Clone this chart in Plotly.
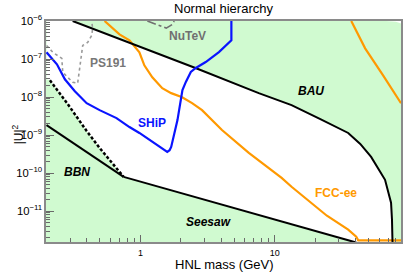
import math
import plotly.graph_objects as go

# ---------------- data (HNL mass in GeV, |U|^2) ----------------
# BAU upper boundary (black solid)
bau_mass = [0.313, 2.60, 7.61, 13.36, 21.9, 35.3, 43.4, 52.3, 66.4, 73.6, 74.8, 75.5]
bau_u2 = [1e-6, 5.71e-8, 1.27e-8, 6.14e-9, 2.64e-9, 1.14e-9, 5.85e-10, 2.67e-10, 6.68e-11, 1.67e-11, 6.0e-12, 1.4e-12]

# Seesaw lower boundary (black solid)
seesaw_mass = [0.75, 40.5]
seesaw_u2 = [8.0e-11, 1.5e-12]

# BBN bound, solid and dashed
bbn_mass = [0.2, 0.75]
bbn_u2 = [1.84e-9, 8.0e-11]
bbn_dash_mass = [0.212, 0.288, 0.398, 0.497, 0.75]
bbn_dash_u2 = [2.77e-8, 6.52e-9, 1.28e-9, 4.6e-10, 8.0e-11]

# SHiP sensitivity (blue)
ship_mass = [0.2, 0.239, 0.274, 0.325, 0.398, 0.497, 0.664, 0.829, 0.983, 1.166, 1.431, 1.53, 1.585, 1.65,
             1.696, 1.889, 2.057, 2.181, 2.375, 2.586, 3.066, 3.846, 4.76, 4.76]
ship_u2 = [1.5e-7, 7.26e-8, 2.94e-8, 1.43e-8, 6.92e-9, 4.54e-9, 2.80e-9, 1.63e-9, 1.14e-9, 7.44e-10, 4.6e-10,
           3.9e-10, 3.61e-10, 4.0e-10, 4.89e-10, 2.48e-9, 1.52e-8, 2.5e-8, 4.57e-8, 5.81e-8, 8.34e-8, 1.52e-7,
           3.09e-7, 1e-6]

# FCC-ee sensitivity (orange), lower and upper branch
fcc_lo_mass = [0.541, 0.699, 0.829, 0.983, 1.07, 1.227, 1.455, 1.696, 2.047, 2.427, 2.879, 4.05, 6.42, 9.03,
               11.27, 13.36, 20.1, 24.5, 35.3, 40.5, 41.9, 100.0]
fcc_lo_u2 = [1e-6, 4.44e-7, 3.09e-7, 1.5e-7, 6.84e-8, 3.32e-8, 1.71e-8, 1.27e-8, 9.93e-9, 6.92e-9, 4.54e-9,
             1.36e-9, 3.4e-10, 1.38e-10, 7.5e-11, 4.39e-11, 1.31e-11, 7.6e-12, 3.28e-12, 2.15e-12, 1.72e-12,
             1.72e-12]
fcc_hi_mass = [37.2, 47.2, 64.2, 87.3]
fcc_hi_u2 = [1e-6, 1.91e-7, 3.74e-8, 6.92e-9]

# PS191 (grey dotted)
ps191_mass = [0.2, 0.223, 0.26, 0.264, 0.313, 0.341, 0.353, 0.366, 0.372, 0.405, 0.434, 0.441, 0.434]
ps191_u2 = [2.28e-7, 1.5e-7, 1.04e-7, 4.49e-8, 2.45e-8, 2.31e-8, 5.71e-8, 1.41e-7, 2.28e-7, 2.74e-7, 4.17e-7,
            6.37e-7, 1e-6]

# NuTeV (grey dash-dot)
nutev_mass = [1.127, 1.383, 1.558, 1.726, 1.786]
nutev_u2 = [1e-6, 7.6e-7, 6.5e-7, 8.1e-7, 1e-6]

# axis limits
x_min, x_max = 0.2, 87.3
y_min, y_max = 1.55e-12, 1e-6

# ---------------- figure ----------------
GREEN = "rgb(208,250,208)"
FONT = "Liberation Sans, Arial, sans-serif"

fig = go.Figure()

# allowed (white) region
white_x = [x_min, bbn_dash_mass[0]] + bbn_dash_mass + seesaw_mass + [bau_mass[-1]] + bau_mass[::-1] + [x_min]
white_y = [2.95e-8, bbn_dash_u2[0]] + bbn_dash_u2 + seesaw_u2 + [y_min * 0.9] + bau_u2[::-1] + [y_max]
fig.add_trace(go.Scatter(x=white_x, y=white_y, mode="lines", fill="toself", fillcolor="white",
                         line=dict(width=0), hoverinfo="skip", showlegend=False))
# small white corner at the top right
fig.add_trace(go.Scatter(x=[67.6, 80.0, x_max, x_max, 67.6], y=[y_max, 9.6e-7, 8.6e-7, y_max, y_max],
                         mode="lines", fill="toself", fillcolor="white", line=dict(width=0),
                         hoverinfo="skip", showlegend=False))


def line(x, y, color, width=2, dash="solid"):
    fig.add_trace(go.Scatter(x=x, y=y, mode="lines", line=dict(color=color, width=width, dash=dash),
                             hoverinfo="skip", showlegend=False))


line(ps191_mass, ps191_u2, "#9a9a9a", 1.6, "dot")
line(nutev_mass, nutev_u2, "#707070", 1.6, "dashdot")
line(fcc_lo_mass, fcc_lo_u2, "#ff9900", 2.2)
line(fcc_hi_mass, fcc_hi_u2, "#ff9900", 2.2)
line(bau_mass, bau_u2, "black", 2)
line(seesaw_mass, seesaw_u2, "black", 2)
line(bbn_mass, bbn_u2, "black", 2)
line(bbn_dash_mass, bbn_dash_u2, "black", 2.5, "3px,2px")
line(ship_mass, ship_u2, "#0a14ff", 2.2)


def lx(v):
    return math.log10(v)


labels = [
    ("NuTeV", 2.23, 3.93e-7, "#707070", False),
    ("PS191", 0.57, 7.7e-8, "#777777", False),
    ("SHiP", 1.23, 2.07e-9, "#0a14ff", False),
    ("BAU", 18.8, 1.43e-8, "black", True),
    ("BBN", 0.34, 1.08e-10, "black", True),
    ("Seesaw", 3.24, 5.3e-12, "black", True),
    ("FCC-ee", 28.8, 3.05e-11, "#ff9900", False),
]
for txt, xm, yu, col, ital in labels:
    t = f"<b><i>{txt}</i></b>" if ital else f"<b>{txt}</b>"
    fig.add_annotation(x=lx(xm), y=lx(yu), xref="x", yref="y", text=t, showarrow=False,
                       font=dict(family=FONT, size=12, color=col))

fig.add_annotation(x=0.5, y=-0.104, xref="paper", yref="paper", text="HNL mass (GeV)", showarrow=False,
                   font=dict(family=FONT, size=13, color="black"), yanchor="middle")
fig.add_annotation(x=-0.106, y=0.489, xref="paper", yref="paper", text="|U|<sup>2</sup>", showarrow=False,
                   textangle=-90, font=dict(family=FONT, size=12, color="black"))

axis_common = dict(type="log", showgrid=False, zeroline=False, showline=True, linecolor="#8a8a8a",
                   linewidth=2, mirror=True, ticks="inside", tickcolor="#6a6a6a",
                   tickfont=dict(family=FONT, size=9, color="black"))

fig.update_xaxes(range=[lx(x_min) - 0.004, lx(x_max)], dtick=1, ticklen=7, tickwidth=1, ticklabelstandoff=1,
                 minor=dict(ticks="inside", ticklen=4, dtick="D1", tickcolor="#6a6a6a"),
                 **axis_common)
fig.update_yaxes(range=[lx(y_min), lx(y_max)], dtick=1, exponentformat="power", ticklen=8, tickwidth=1,
                 minor=dict(ticks="inside", ticklen=4, dtick="D1", tickcolor="#6a6a6a"),
                 **axis_common)

fig.update_layout(
    width=407, height=273, autosize=False,
    margin=dict(l=46, r=4, t=21, b=31),
    plot_bgcolor=GREEN, paper_bgcolor="white",
    title=dict(text="Normal hierarchy", x=0.5, xref="paper", y=0.97, yref="container", yanchor="middle",
               font=dict(family=FONT, size=13, color="black")),
    showlegend=False,
)

fig.write_html("out.html", config={"displayModeBar": False},
               post_script="document.body.style.margin='0px';")
